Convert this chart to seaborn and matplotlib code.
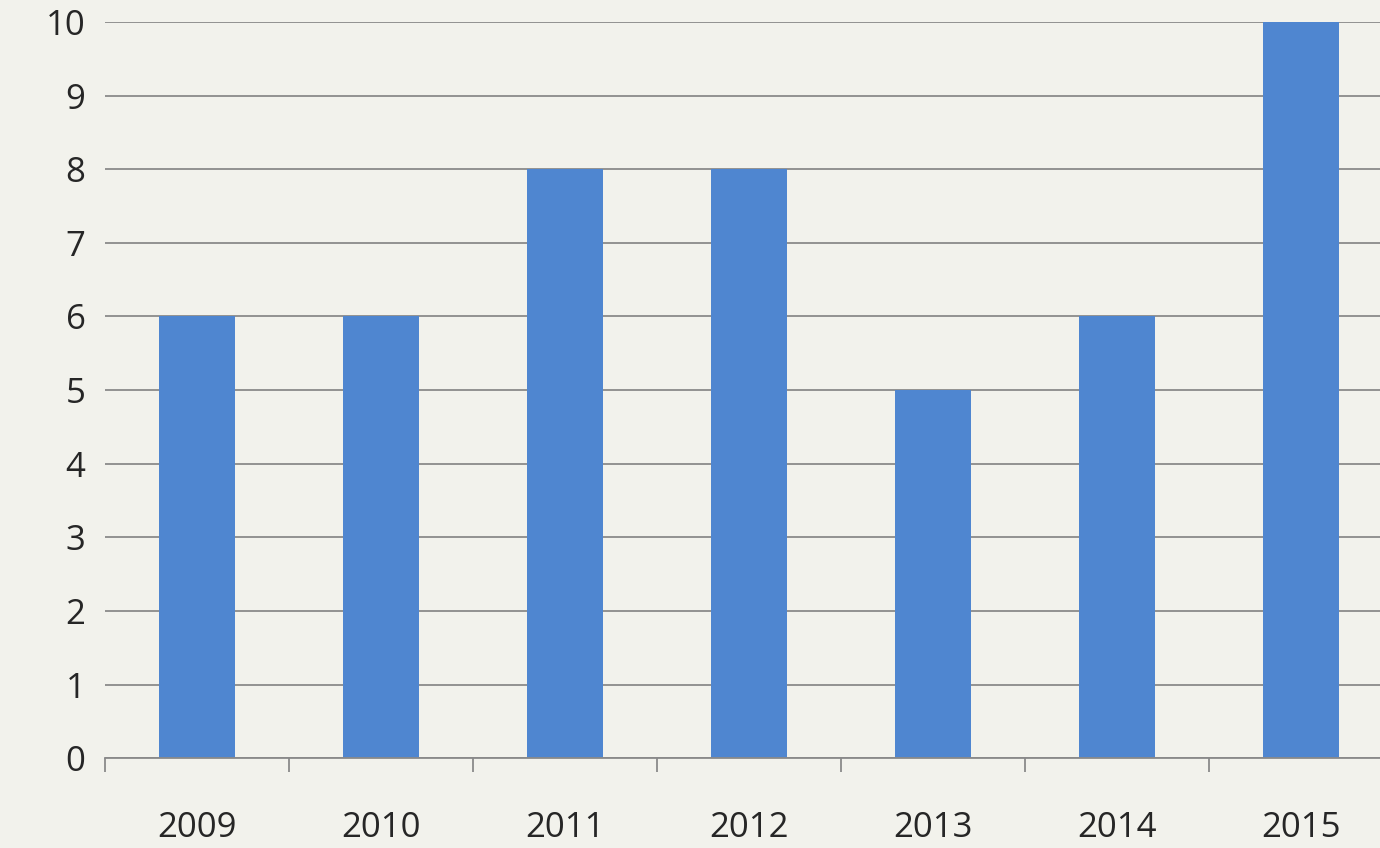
import matplotlib
matplotlib.use("Agg")
import matplotlib.pyplot as plt
import seaborn as sns
import pandas as pd

years = ["2009", "2010", "2011", "2012", "2013", "2014", "2015"]
counts = [6, 6, 8, 8, 5, 6, 10]

df = pd.DataFrame({"year": years, "count": counts})

sns.set_style("white")
plt.rcParams["font.family"] = ["Open Sans", "DejaVu Sans"]

fig = plt.figure(figsize=(13.8, 8.48), dpi=100, facecolor="#f2f2ec")
ax = fig.add_axes([0.076, 0.106, 0.924, 0.868])
ax.set_facecolor("#f2f2ec")

sns.barplot(data=df, x="year", y="count", color="#4f86d0", saturation=1,
            width=0.41, edgecolor="none", ax=ax)

ax.set_ylim(0, 10)
ax.set_xlim(-0.5, 6.43)
ax.set_yticks(range(0, 11))
ax.yaxis.grid(True, color="#8a8a8a", linewidth=1.3)
ax.set_axisbelow(True)
for s in ["top", "right", "left"]:
    ax.spines[s].set_visible(False)
ax.spines["bottom"].set_color("#8a8a8a")
ax.spines["bottom"].set_linewidth(1.3)

ax.set_xticks([i - 0.5 for i in range(7)], minor=True)
ax.tick_params(axis="x", which="minor", bottom=True, length=10, width=1.3,
               color="#8a8a8a", direction="out")
ax.tick_params(axis="x", which="major", length=0, pad=38, labelsize=25)
ax.tick_params(axis="y", length=0, pad=14, labelsize=25)
ax.set_xlabel("")
ax.set_ylabel("")

fig.savefig("out.png", dpi=100, facecolor=fig.get_facecolor())
